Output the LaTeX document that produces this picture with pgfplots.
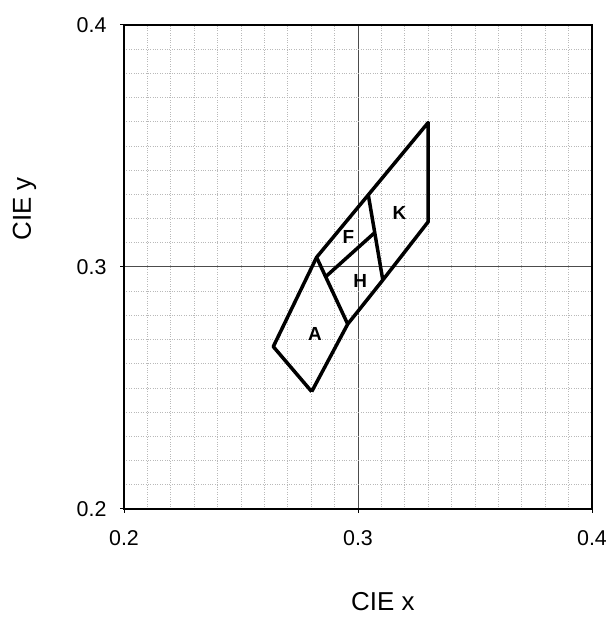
\documentclass[border=0pt]{standalone}
\usepackage{pgfplots}
\pgfplotsset{compat=1.18}
\usepackage{fontspec}
\setmainfont{Liberation Sans}
\begin{document}
\begin{tikzpicture}[x=1bp,y=1bp]
\useasboundingbox (0,0) rectangle (606,619);
\begin{axis}[
  at={(124bp,110bp)}, anchor=south west,
  width=468bp, height=484bp, scale only axis,
  xmin=0.2, xmax=0.4, ymin=0.2, ymax=0.4,
  xtick={0.2,0.3,0.4}, ytick={0.2,0.3,0.4},
  minor tick num=9,
  grid=both,
  major grid style={black!70, line width=1bp},
  minor grid style={gray!55, dotted, line width=0.7bp},
  axis line style={black, line width=2bp},
  tick align=outside, major tick length=4bp, minor tick length=0pt,
  xtick pos=bottom, ytick pos=left,
  tick style={black, line width=1bp},
  /pgf/number format/assume math mode=true,
  /pgf/number format/fixed, /pgf/number format/precision=1,
  /pgf/number format/fixed zerofill,
  ticklabel style={font=\fontsize{21.5}{24}\selectfont},
  xticklabel style={yshift=-14bp},
  yticklabel style={xshift=-10bp},
  xlabel={CIE x}, ylabel={CIE y},
  label style={font=\fontsize{26}{30}\selectfont},
  xlabel style={at={(axis description cs:0.553,-0.1915)}, anchor=center},
  ylabel style={at={(axis description cs:-0.2126,0.62)}, anchor=center},
]
\addplot[black, line width=3.5bp, line join=round] coordinates {
  (0.2802,0.2485) (0.2638,0.2671) (0.2823,0.3040) (0.3044,0.3298)
  (0.3300,0.3597) (0.3300,0.3187) (0.3106,0.2946) (0.2956,0.2764)
  (0.2802,0.2485)
};
\addplot[black, line width=3.5bp, line join=round] coordinates {
  (0.2823,0.3040) (0.2956,0.2764)
};
\addplot[black, line width=3.5bp, line join=round] coordinates {
  (0.2862,0.2960) (0.3068,0.3139)
};
\addplot[black, line width=3.5bp, line join=round] coordinates {
  (0.3044,0.3298) (0.3106,0.2946)
};
\node[font=\fontsize{19}{21}\selectfont\bfseries] at (axis cs:0.2816,0.2725) {A};
\node[font=\fontsize{19}{21}\selectfont\bfseries] at (axis cs:0.2959,0.3125) {F};
\node[font=\fontsize{19}{21}\selectfont\bfseries] at (axis cs:0.3009,0.2942) {H};
\node[font=\fontsize{19}{21}\selectfont\bfseries] at (axis cs:0.3177,0.3224) {K};
\end{axis}
\end{tikzpicture}
\end{document}
